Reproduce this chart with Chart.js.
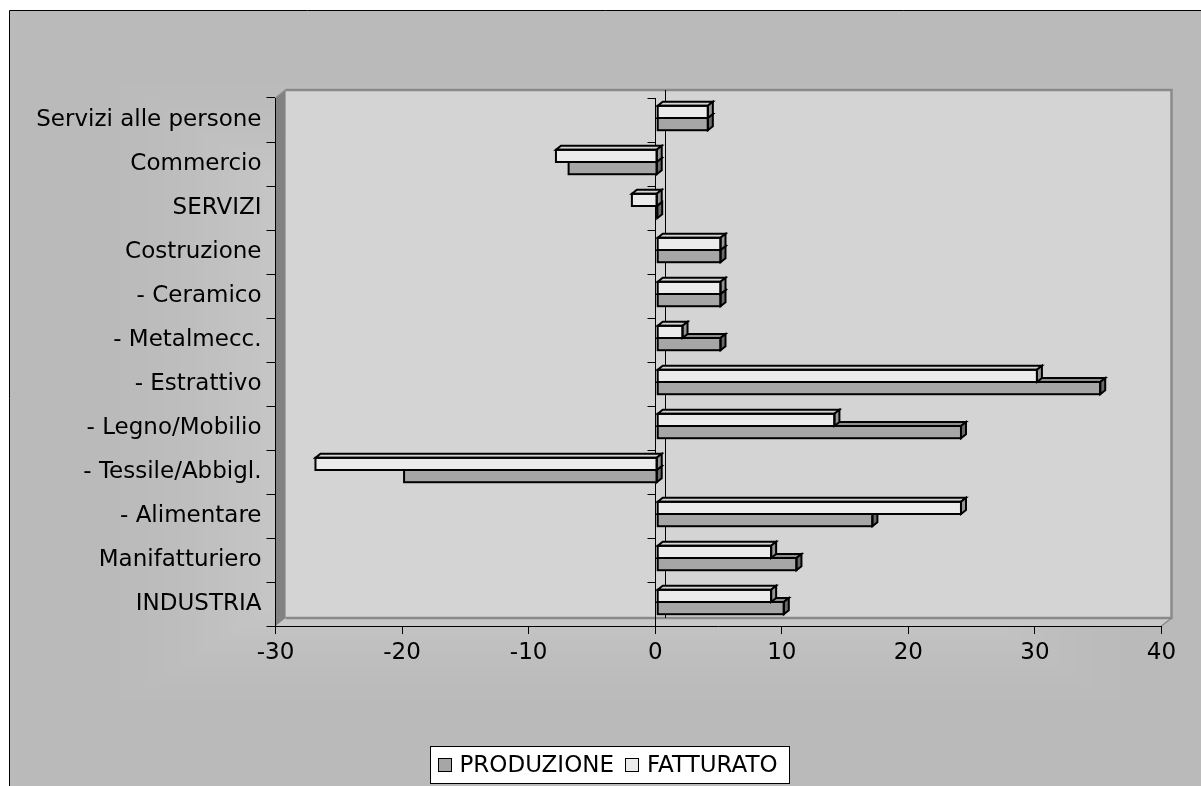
<!DOCTYPE html>
<html>
<head>
<meta charset="utf-8">
<title>Produzione e fatturato per settore</title>
<script src="https://cdn.jsdelivr.net/npm/chart.js@4.4.1/dist/chart.umd.min.js"></script>
<style>
  html, body { margin: 0; padding: 0; background: #ffffff; overflow: hidden; }
  canvas { display: block; }
</style>
</head>
<body>
<canvas id="chart" width="1201" height="786"></canvas>
<script>
// ---- data -------------------------------------------------------------
const categories = [
  'INDUSTRIA', 'Manifatturiero', '- Alimentare', '- Tessile/Abbigl.',
  '- Legno/Mobilio', '- Estrattivo', '- Metalmecc.', '- Ceramico',
  'Costruzione', 'SERVIZI', 'Commercio', 'Servizi alle persone'
];
const produzione = [10, 11, 17, -20, 24, 35, 5, 5, 5, 0, -7, 4];
const fatturato  = [9, 9, 24, -27, 14, 30, 2, 5, 5, -2, -8, 4];
const valueTicks = [-30, -20, -10, 0, 10, 20, 30, 40];
const seriesNames = ['PRODUZIONE', 'FATTURATO'];

// ---- look -------------------------------------------------------------
const FONT = 'DejaVu Sans';
const WALL_DEPTH = { x: 10, y: -8 };   // offset of the back wall from the axes plane
const BAR_SHIFT  = { x: 2,  y: -2 };   // bars sit slightly behind the axes plane
const BAR_DEPTH  = { x: 5,  y: -4 };   // thickness of each 3-D bar
const barStyles = {
  PRODUZIONE: { front: '#a6a6a6', top: '#8e8e8e', side: '#6a6a6a' },
  FATTURATO:  { front: '#ebebeb', top: '#d6d6d6', side: '#969696' }
};

Chart.defaults.font.family = FONT;
Chart.defaults.font.size = 23;
Chart.defaults.color = '#000';

function polygon(ctx, pts, fill) {
  ctx.beginPath();
  ctx.moveTo(pts[0][0], pts[0][1]);
  for (let i = 1; i < pts.length; i++) ctx.lineTo(pts[i][0], pts[i][1]);
  ctx.closePath();
  if (fill) { ctx.fillStyle = fill; ctx.fill(); }
  ctx.stroke();
}

// Grey backdrop with a soft lighter centre, framed on the top/left.
function paintBackdrop(ctx, w, h) {
  ctx.save();
  ctx.fillStyle = '#ffffff';
  ctx.fillRect(0, 0, w, h);
  const x0 = 9.5, y0 = 10.5;
  ctx.fillStyle = '#bababa';
  ctx.fillRect(x0, y0, w - x0, h - y0);
  const cx = 620, cy = 392, hw = 540, hh = 335, steps = 60;
  for (let i = 1; i <= steps; i++) {
    const t = i / steps;
    const e = t * t * (3 - 2 * t);
    const c = Math.round(186 + (222 - 186) * e);
    ctx.fillStyle = `rgb(${c},${c},${c})`;
    const sx = hw * (1 - t * 0.92), sy = hh * (1 - t * 0.92);
    ctx.fillRect(cx - sx, cy - sy, sx * 2, sy * 2);
  }
  ctx.strokeStyle = '#000';
  ctx.lineWidth = 1;
  ctx.beginPath();
  ctx.moveTo(x0, h);
  ctx.lineTo(x0, y0);
  ctx.lineTo(w, y0);
  ctx.stroke();
  ctx.restore();
}

// Back wall, side wall and floor of the 3-D plot box.
function paintWalls(ctx, area) {
  const { left: L, right: R, top: T, bottom: B } = area;
  const dx = WALL_DEPTH.x, dy = WALL_DEPTH.y;
  ctx.save();
  ctx.lineWidth = 0;
  ctx.strokeStyle = 'rgba(0,0,0,0)';
  // back wall
  ctx.fillStyle = '#d4d4d4';
  ctx.fillRect(L + dx, T + dy, R - L, B - T);
  // floor
  polygon(ctx, [[L, B], [L + dx, B + dy], [R + dx, B + dy], [R, B]], '#c9c9c9');
  // left wall
  polygon(ctx, [[L, T], [L + dx, T + dy], [L + dx, B + dy], [L, B]], '#828282');
  // wall edges
  ctx.strokeStyle = '#8a8a8a';
  ctx.lineWidth = 2.5;
  ctx.beginPath();
  ctx.moveTo(L + dx, B + dy);
  ctx.lineTo(R + dx, B + dy);
  ctx.lineTo(R + dx, T + dy);
  ctx.lineTo(L + dx, T + dy);
  ctx.stroke();
  ctx.lineWidth = 1.5;
  ctx.beginPath();
  ctx.moveTo(L, T); ctx.lineTo(L + dx, T + dy);
  ctx.moveTo(R, B); ctx.lineTo(R + dx, B + dy);
  ctx.stroke();
  ctx.restore();
}

const plot3d = {
  id: 'plot3d',
  beforeDraw(chart) {
    const ctx = chart.ctx;
    paintBackdrop(ctx, chart.width, chart.height);
    paintWalls(ctx, chart.chartArea);
  },
  beforeDatasetsDraw(chart) {
    const ctx = chart.ctx;
    const xs = chart.scales.x, ys = chart.scales.y;
    const x0 = Math.round(xs.getPixelForValue(0)) + 0.5;
    ctx.save();
    ctx.strokeStyle = '#000';
    ctx.lineWidth = 1;
    // zero line on the back wall
    ctx.beginPath();
    ctx.moveTo(x0 + WALL_DEPTH.x, ys.top + WALL_DEPTH.y);
    ctx.lineTo(x0 + WALL_DEPTH.x, ys.bottom + WALL_DEPTH.y);
    ctx.stroke();
    // category axis crossing at zero, with its tick marks
    ctx.beginPath();
    ctx.moveTo(x0, ys.top);
    ctx.lineTo(x0, ys.bottom);
    const n = categories.length;
    for (let i = 0; i <= n; i++) {
      const y = Math.round(ys.top + (ys.bottom - ys.top) * i / n) + 0.5;
      ctx.moveTo(x0 - 8, y);
      ctx.lineTo(x0, y);
    }
    ctx.stroke();
    ctx.restore();
    ctx.save();
    ctx.translate(BAR_SHIFT.x, BAR_SHIFT.y);
  },
  afterDatasetDraw(chart, args) {
    const ctx = chart.ctx;
    const ds = chart.data.datasets[args.index];
    const st = barStyles[ds.label];
    const dx = BAR_DEPTH.x, dy = BAR_DEPTH.y;
    ctx.save();
    ctx.strokeStyle = '#000';
    ctx.lineWidth = 2;
    ctx.lineJoin = 'miter';
    args.meta.data.forEach(el => {
      const p = el.getProps(['x', 'y', 'base', 'height'], true);
      const l = Math.min(p.x, p.base), r = Math.max(p.x, p.base);
      const t = p.y - p.height / 2, b = p.y + p.height / 2;
      polygon(ctx, [[l, t], [l + dx, t + dy], [r + dx, t + dy], [r, t]], st.top);
      polygon(ctx, [[r, t], [r + dx, t + dy], [r + dx, b + dy], [r, b]], st.side);
      ctx.strokeRect(l, t, r - l, b - t);
    });
    ctx.restore();
  },
  afterDatasetsDraw(chart) {
    chart.ctx.restore();
  },
  afterDraw(chart) {
    // legend: series listed in their original order
    const ctx = chart.ctx;
    const items = chart.data.datasets.slice().reverse();
    ctx.save();
    ctx.font = `23px "${FONT}"`;
    const sw = 14, gapText = 8, gapItem = 11, padL = 7, padR = 12;
    let total = 0;
    items.forEach((ds, i) => {
      total += sw + gapText + ctx.measureText(ds.label).width + (i < items.length - 1 ? gapItem : 0);
    });
    const boxX = 430.5, boxY = 746.5, boxH = 37;
    const boxW = Math.round(padL + total + padR);
    ctx.fillStyle = '#ffffff';
    ctx.fillRect(boxX, boxY, boxW, boxH);
    ctx.strokeStyle = '#000';
    ctx.lineWidth = 1;
    ctx.strokeRect(boxX, boxY, boxW, boxH);
    const cy = boxY + boxH / 2;
    let x = boxX + padL;
    ctx.textBaseline = 'middle';
    ctx.textAlign = 'left';
    items.forEach(ds => {
      ctx.fillStyle = ds.backgroundColor;
      ctx.fillRect(Math.round(x) + 0.5, Math.round(cy - sw / 2) + 0.5, sw - 1, sw - 1);
      ctx.strokeRect(Math.round(x) + 0.5, Math.round(cy - sw / 2) + 0.5, sw - 1, sw - 1);
      x += sw + gapText;
      ctx.fillStyle = '#000';
      ctx.fillText(ds.label, x, cy + 1);
      x += ctx.measureText(ds.label).width + gapItem;
    });
    ctx.restore();
  }
};

new Chart(document.getElementById('chart'), {
  type: 'bar',
  data: {
    labels: categories,
    datasets: [
      { label: seriesNames[1], data: fatturato,  backgroundColor: barStyles.FATTURATO.front,  borderWidth: 0 },
      { label: seriesNames[0], data: produzione, backgroundColor: barStyles.PRODUZIONE.front, borderWidth: 0 }
    ]
  },
  options: {
    indexAxis: 'y',
    responsive: false,
    animation: false,
    events: [],
    categoryPercentage: 0.555,
    barPercentage: 1.0,
    layout: { padding: { left: 0, top: 98, right: 39.5, bottom: 0 } },
    plugins: {
      legend: { display: false },
      tooltip: { enabled: false },
      title: { display: false }
    },
    scales: {
      x: {
        type: 'linear',
        min: valueTicks[0],
        max: valueTicks[valueTicks.length - 1],
        afterBuildTicks(scale) { scale.ticks = valueTicks.map(v => ({ value: v })); },
        afterFit(scale) { scale.height = 160; },
        grid: { drawOnChartArea: false, drawTicks: true, tickLength: 8, color: '#000', lineWidth: 1 },
        border: { display: true, color: '#000', width: 1 },
        ticks: { padding: 5, color: '#000', font: { size: 23 } }
      },
      y: {
        type: 'category',
        reverse: true,
        offset: true,
        afterFit(scale) { scale.width = 275.5; },
        grid: { drawOnChartArea: false, drawTicks: true, tickLength: 9, color: '#000', lineWidth: 1, offset: true },
        border: { display: true, color: '#000', width: 1 },
        ticks: { padding: 5, color: '#000', font: { size: 23 }, autoSkip: false }
      }
    }
  },
  plugins: [plot3d]
});
</script>
</body>
</html>
